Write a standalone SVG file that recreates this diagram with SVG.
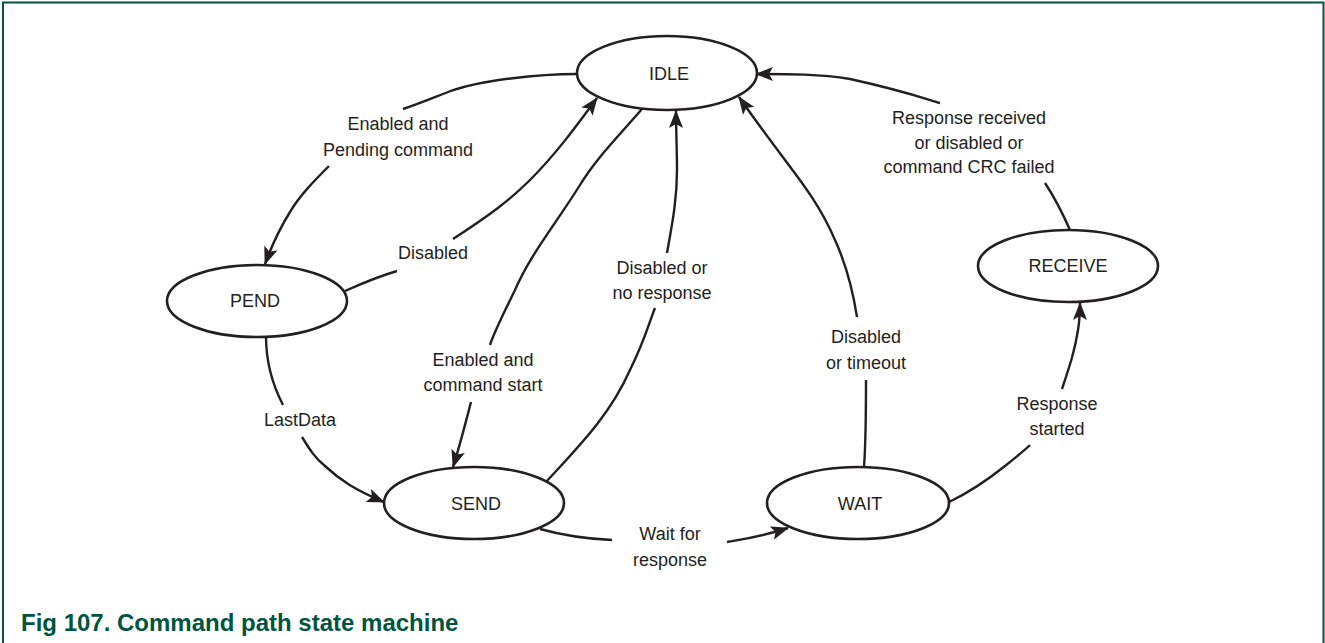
<svg xmlns="http://www.w3.org/2000/svg" width="1325" height="643" viewBox="0 0 1325 643">
<style>
.frame{fill:none;stroke:#00553f;stroke-width:2}
.node{fill:#fff;stroke:#231f20;stroke-width:2.6}
.edge{fill:none;stroke:#231f20;stroke-width:2.4}
.lbl{font-family:"Liberation Sans",Arial,sans-serif;font-size:18px;fill:#231f20;text-anchor:middle}
.title{font-family:"Liberation Sans",Arial,sans-serif;font-size:24px;font-weight:bold;fill:#00553f}
</style>
<defs>
<marker id="arr" markerUnits="userSpaceOnUse" markerWidth="18" markerHeight="14" viewBox="0 0 18 14" refX="17" refY="7" orient="auto">
<path d="M0,0 L18,7 L0,14 L4,7 Z" fill="#231f20"/>
</marker>
</defs>
<rect width="1325" height="643" fill="#fff"/>
<path class="frame" d="M3,643 V2.5 H1323.5 V643"/>
<g id="connectors">
<path class="edge" d="M577,74 C540,74 480,80 448,92 C430,99 418,104 403,109"/>
<path class="edge" marker-end="url(#arr)" d="M329,166 C315,180 300,195 290,212 C280,228 272,245 265,264"/>
<path class="edge" d="M345,291 C365,282 380,276 397,271"/>
<path class="edge" marker-end="url(#arr)" d="M453,239 C490,215 510,200 530,180 C555,155 575,128 597,98"/>
<path class="edge" d="M642,109 C615,140 595,160 580,185 C555,225 530,255 515,290 C503,315 495,330 490,345"/>
<path class="edge" marker-end="url(#arr)" d="M471,402 C465,425 460,445 453,467"/>
<path class="edge" d="M546,482 C580,445 610,415 630,370 C645,340 650,320 655,308"/>
<path class="edge" marker-end="url(#arr)" d="M667,253 C672,225 677,200 677,170 C677,150 676,130 676,111"/>
<path class="edge" d="M864,467 C866,440 866,410 866,380"/>
<path class="edge" marker-end="url(#arr)" d="M857,317 C852,285 845,262 835,240 C820,205 800,180 785,160 C770,140 755,120 739,97"/>
<path class="edge" d="M1070,230 C1062,212 1055,198 1045,183"/>
<path class="edge" marker-end="url(#arr)" d="M940,103 C920,97 900,90 850,79 C820,74 790,74 756,74"/>
<path class="edge" d="M266,336 C266,355 270,380 283,405"/>
<path class="edge" marker-end="url(#arr)" d="M302,437 C310,450 315,458 325,466 C340,480 355,490 384,502"/>
<path class="edge" d="M540,529 C565,536 590,539 612,540"/>
<path class="edge" marker-end="url(#arr)" d="M727,542 C745,539 760,537 788,528"/>
<path class="edge" d="M949,502 C970,492 990,478 1005,466 C1015,458 1025,450 1030,445"/>
<path class="edge" marker-end="url(#arr)" d="M1062,389 C1070,365 1075,350 1078,330 C1080,318 1080,310 1080,303"/>
<text class="lbl" x="398" y="130">Enabled and</text>
<text class="lbl" x="398" y="156">Pending command</text>
<text class="lbl" x="433" y="259">Disabled</text>
<text class="lbl" x="483" y="366">Enabled and</text>
<text class="lbl" x="483" y="391">command start</text>
<text class="lbl" x="662" y="274">Disabled or</text>
<text class="lbl" x="662" y="299">no response</text>
<text class="lbl" x="866" y="343">Disabled</text>
<text class="lbl" x="866" y="369">or timeout</text>
<text class="lbl" x="969" y="124">Response received</text>
<text class="lbl" x="969" y="149">or disabled or</text>
<text class="lbl" x="969" y="173">command CRC failed</text>
<text class="lbl" x="300" y="426">LastData</text>
<text class="lbl" x="670" y="540">Wait for</text>
<text class="lbl" x="670" y="566">response</text>
<text class="lbl" x="1057" y="410">Response</text>
<text class="lbl" x="1057" y="435">started</text>
</g>
<g id="IDLE"><ellipse class="node" cx="667" cy="73" rx="90" ry="37"/><text class="lbl" x="669" y="80">IDLE</text></g>
<g id="PEND"><ellipse class="node" cx="257" cy="301" rx="90" ry="36"/><text class="lbl" x="255" y="307">PEND</text></g>
<g id="SEND"><ellipse class="node" cx="474" cy="503" rx="90" ry="36"/><text class="lbl" x="476" y="510">SEND</text></g>
<g id="WAIT"><ellipse class="node" cx="858" cy="503" rx="91" ry="36"/><text class="lbl" x="860" y="510">WAIT</text></g>
<g id="RECEIVE"><ellipse class="node" cx="1068" cy="266" rx="90" ry="36"/><text class="lbl" x="1068" y="272">RECEIVE</text></g>
<text class="title" x="21" y="631">Fig 107. Command path state machine</text>
</svg>
